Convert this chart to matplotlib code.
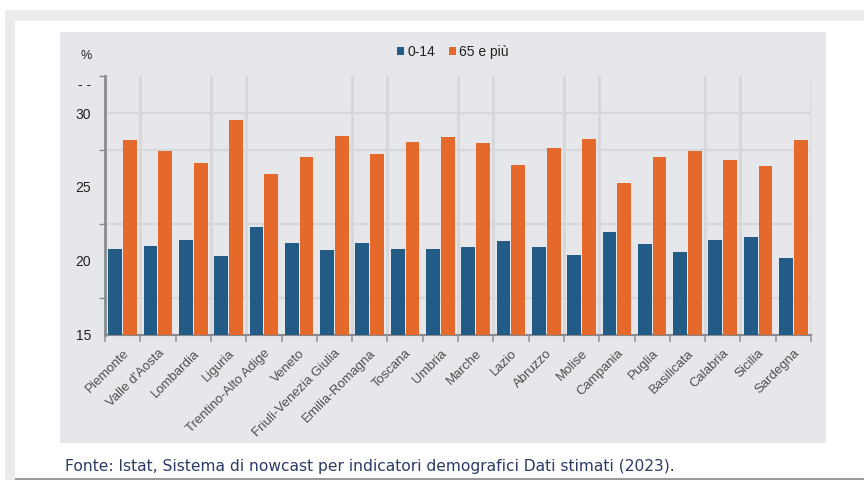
import matplotlib
matplotlib.use("Agg")
import matplotlib.pyplot as plt
from matplotlib.patches import Rectangle, Patch
import numpy as np

regions = ["Piemonte", "Valle d'Aosta", "Lombardia", "Liguria", "Trentino-Alto Adige",
           "Veneto", "Friuli-Venezia Giulia", "Emilia-Romagna", "Toscana", "Umbria",
           "Marche", "Lazio", "Abruzzo", "Molise", "Campania", "Puglia", "Basilicata",
           "Calabria", "Sicilia", "Sardegna"]
age_0_14 = [20.8, 21.0, 21.4, 20.35, 22.3, 21.2, 20.75, 21.2, 20.8, 20.8,
            20.95, 21.35, 20.95, 20.4, 21.95, 21.15, 20.6, 21.4, 21.6, 20.2]
age_65 = [28.2, 27.45, 26.65, 29.55, 25.9, 27.05, 28.45, 27.25, 28.05, 28.4,
          28.0, 26.5, 27.65, 28.25, 25.3, 27.0, 27.45, 26.85, 26.45, 28.2]
ytick_vals = [15, 20, 25, 30, 32]
ytick_labels = ["15", "20", "25", "30", "- -"]
series_names = ["0-14", "65 e più"]
caption = "Fonte: Istat, Sistema di nowcast per indicatori demografici Dati stimati (2023)."

BLUE = "#225b85"
ORANGE = "#e4692a"
PANEL = "#e6e7eb"
GRID = "#d6d7da"

W, H = 864, 482
fig = plt.figure(figsize=(W / 100, H / 100), dpi=100)
fig.patch.set_facecolor("white")

def frect(x0, y0, x1, y1, color):
    fig.patches.append(Rectangle((x0 / W, 1 - y1 / H), (x1 - x0) / W, (y1 - y0) / H,
                                 transform=fig.transFigure, facecolor=color,
                                 edgecolor="none", zorder=-5))

# page frame
frect(5, 10, 864, 21, "#ebebed")
frect(5, 10, 15, 480, "#ebebed")
frect(15, 478, 864, 480, "#9a9a9a")
# chart panel
frect(60, 32, 826, 443, PANEL)

ax = fig.add_axes([105 / W, 1 - 335 / H, (811 - 105) / W, (335 - 76) / H])
ax.set_zorder(2)
ax.patch.set_alpha(0)

x = np.arange(len(regions))
w = 0.39
ax.bar(x - 0.21, age_0_14, width=w, color=BLUE, zorder=3)
ax.bar(x + 0.21, age_65, width=w, color=ORANGE, zorder=3)
ax.set_xlim(-0.5, len(regions) - 0.5)
ax.set_ylim(15, 32.5)

# grid lines
for gy in [17.5, 22.5, 27.5, 30]:
    ax.axhline(gy, color=GRID, lw=1.6, zorder=1)
for k in [1, 3, 4, 7, 8, 10, 11, 13, 14, 17, 18, 20]:
    ax.axvline(k - 0.5, color=GRID, lw=2, zorder=1)

for s in ["top", "right"]:
    ax.spines[s].set_visible(False)
ax.spines["left"].set_color("#8a8a8e")
ax.spines["left"].set_linewidth(2)
ax.spines["bottom"].set_color("#8a8a8e")
ax.spines["bottom"].set_linewidth(1.5)

ax.set_yticks(ytick_vals)
ax.set_yticklabels(ytick_labels, fontsize=10, color="#222222", family="Liberation Sans")
ax.set_yticks([17.5, 22.5, 27.5, 30, 32.5], minor=True)
ax.tick_params(axis="y", which="major", length=0, pad=10)
ax.tick_params(axis="y", which="minor", length=4, width=1, color="#8a8a8e")

ax.set_xticks(x)
ax.set_xticklabels(regions, rotation=45, ha="right", rotation_mode="anchor",
                   fontsize=9.5, color="#505050", family="Liberation Sans")
ax.tick_params(axis="x", which="major", length=0, pad=9)
ax.set_xticks(np.arange(len(regions) + 1) - 0.5, minor=True)
ax.tick_params(axis="x", which="minor", length=5, width=1.2, color="#9a9a9e")

fig.text(86 / W, 1 - 56 / H, "%", fontsize=9, color="#222222", ha="center", va="center",
         family="Liberation Sans")

handles = [Patch(facecolor=BLUE, edgecolor="none"), Patch(facecolor=ORANGE, edgecolor="none")]
leg = fig.legend(handles, series_names, loc="center", bbox_to_anchor=(453 / W, 1 - 52 / H),
                 ncol=2, frameon=False, handlelength=0.5, handleheight=0.5,
                 handletextpad=0.25, columnspacing=1.0,
                 prop={"family": "Liberation Sans", "size": 10})
for t in leg.get_texts():
    t.set_color("#222222")

fig.text(65 / W, 1 - 466 / H, caption, fontsize=11.2, color="#2b3a67", ha="left", va="center",
         family="DejaVu Sans")

fig.savefig("out.png", dpi=100, facecolor="white")
